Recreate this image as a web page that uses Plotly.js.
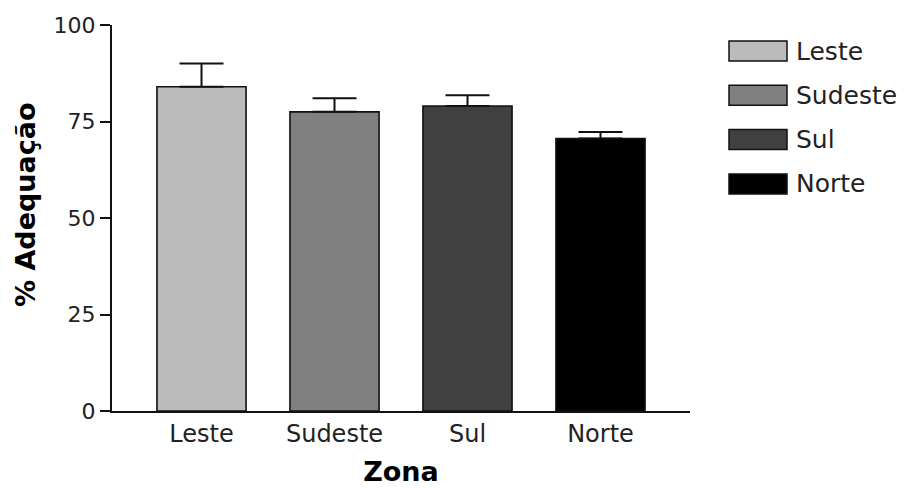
<!DOCTYPE html>
<html>
<head>
<meta charset="utf-8">
<script src="https://cdn.plot.ly/plotly-3.0.1.min.js"></script>
<style>html,body{margin:0;padding:0;background:#fff;}#chart{width:910px;height:488px;}</style>
</head>
<body>
<div id="chart"></div>
<script>
const zonas = ["Leste", "Sudeste", "Sul", "Norte"];
const adequacao = [84, 77.5, 79, 70.6];
const erro = [6, 3.5, 2.8, 1.7];
const cores = ["#bbbbbb", "#808080", "#404040", "#000000"];
const yTicks = [0, 25, 50, 75, 100];
const yTitulo = "% Adequação";
const xTitulo = "Zona";

const W = 910, H = 488;
const M = {l: 112, r: 220, t: 25, b: 77};
const pw = W - M.l - M.r, ph = H - M.t - M.b;
const px2x = p => (p - M.l) / pw;
const py2y = p => (H - M.b - p) / ph;

const trace = {
  type: "bar",
  x: zonas,
  y: adequacao,
  width: 0.67,
  marker: {color: cores, line: {color: "#111", width: 1.6}},
  error_y: {type: "data", symmetric: false, array: erro, arrayminus: erro.map(() => 0),
            color: "#111", thickness: 2, width: 22},
  showlegend: false,
  hoverinfo: "x+y"
};

const shapes = [], annotations = [];
zonas.forEach((z, i) => {
  const cy = 51 + i * 44.3;
  shapes.push({type: "rect", xref: "paper", yref: "paper",
    x0: px2x(729), x1: px2x(787), y0: py2y(cy + 10), y1: py2y(cy - 10),
    fillcolor: cores[i], line: {color: "#111", width: 1.5}});
  annotations.push({xref: "paper", yref: "paper", x: px2x(794), y: py2y(cy),
    xanchor: "left", yanchor: "middle", text: z, showarrow: false,
    font: {family: "DejaVu Sans", size: 25, color: "#222"}});
});
annotations.push({xref: "paper", yref: "paper", x: px2x(25), y: py2y(205),
  xanchor: "center", yanchor: "middle", textangle: -90, text: yTitulo, showarrow: false,
  font: {family: "DejaVu Sans", size: 27, color: "#000", weight: "bold"}});

const layout = {
  width: W, height: H,
  margin: M,
  paper_bgcolor: "#fff", plot_bgcolor: "#fff",
  showlegend: false,
  xaxis: {
    type: "category",
    range: [-0.673, 3.673],
    showline: true, linecolor: "#111", linewidth: 2,
    ticks: "", showgrid: false, zeroline: false,
    tickfont: {family: "DejaVu Sans", size: 24, color: "#222"},
    title: {text: xTitulo, font: {family: "DejaVu Sans", size: 27, color: "#000", weight: "bold"}, standoff: 15}
  },
  yaxis: {
    range: [0, 100],
    tickvals: yTicks, ticktext: yTicks.map(String),
    showline: true, linecolor: "#111", linewidth: 2,
    ticks: "outside", ticklen: 10, tickwidth: 2, tickcolor: "#111",
    showgrid: false, zeroline: false,
    tickfont: {family: "DejaVu Sans", size: 22, color: "#222"}
  },
  shapes: shapes,
  annotations: annotations
};

Plotly.newPlot("chart", [trace], layout, {displayModeBar: false, staticPlot: true});
</script>
</body>
</html>
